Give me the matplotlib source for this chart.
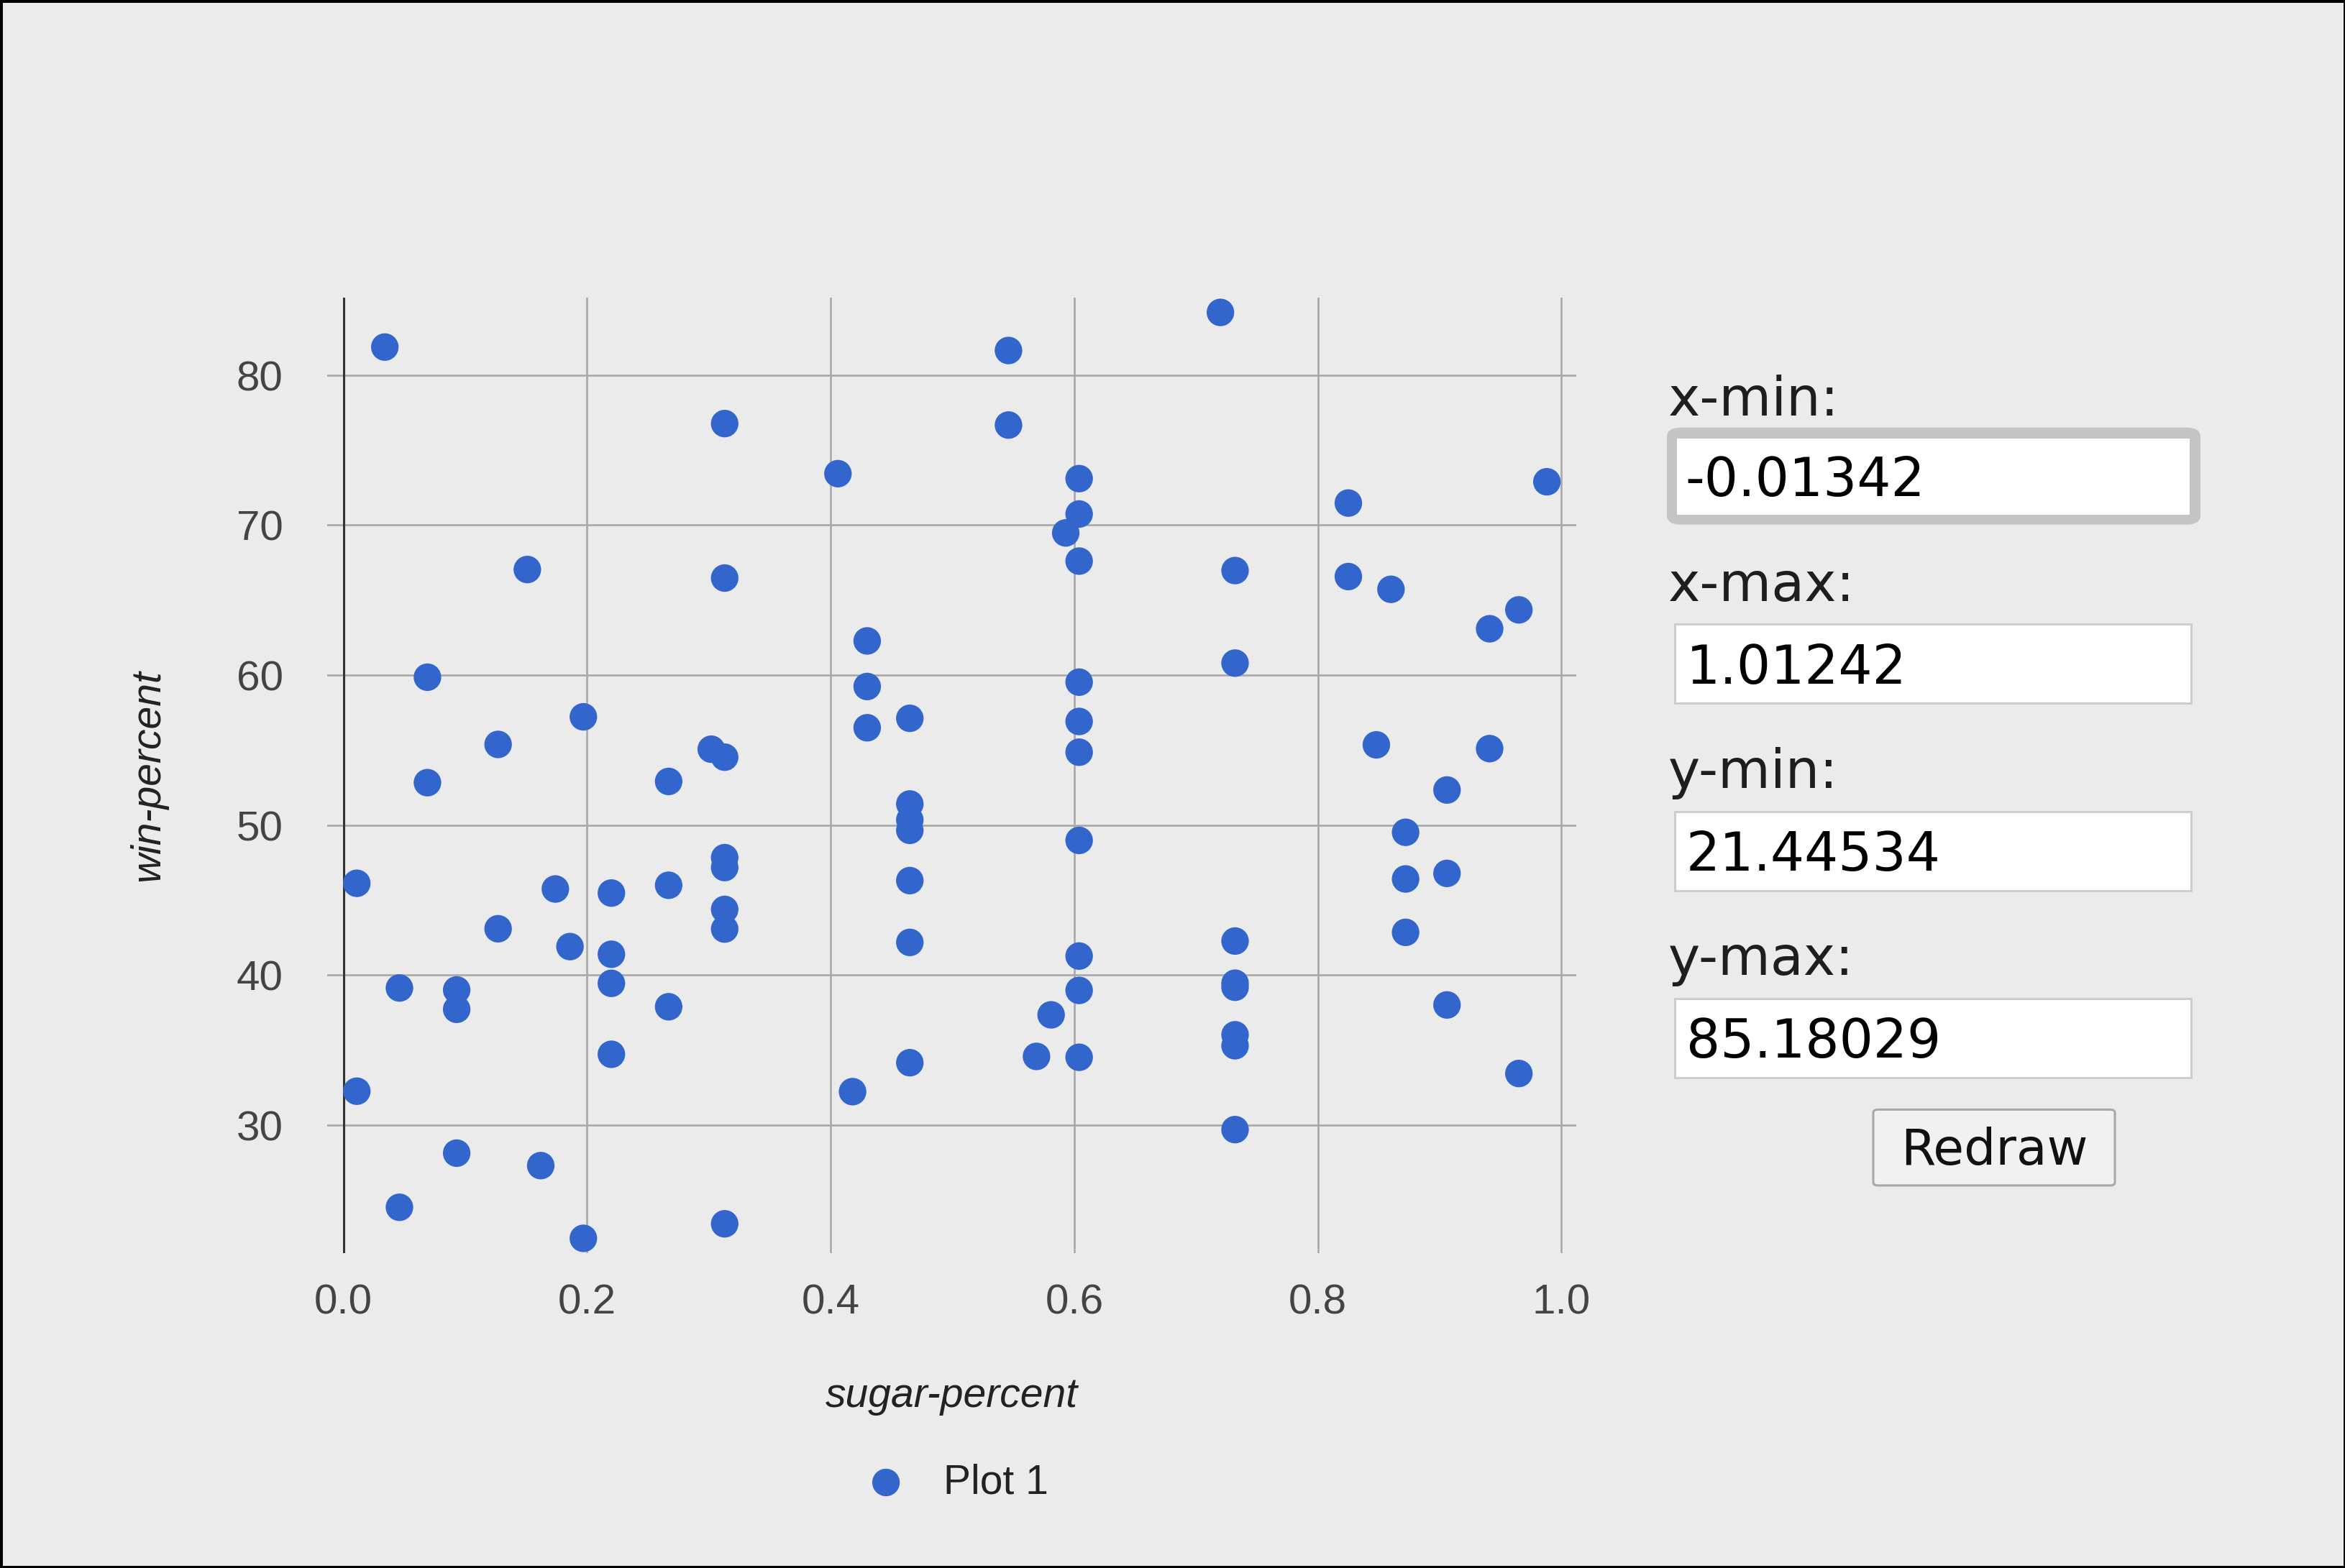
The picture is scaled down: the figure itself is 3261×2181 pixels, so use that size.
import matplotlib
matplotlib.use('Agg')
import numpy as np
import matplotlib.pyplot as plt
from matplotlib.patches import Rectangle, FancyBboxPatch

# sugar-percent / win-percent (85 candies)
sugar_percent = [0.732, 0.604, 0.011, 0.011, 0.906, 0.465, 0.604, 0.313, 0.906, 0.604,
                 0.604, 0.732, 0.046, 0.732, 0.732, 0.127, 0.732, 0.906, 0.465, 0.465,
                 0.465, 0.465, 0.127, 0.430, 0.430, 0.430, 0.093, 0.197, 0.313, 0.220,
                 0.046, 0.267, 0.825, 0.825, 0.872, 0.302, 0.604, 0.732, 0.965, 0.313,
                 0.313, 0.848, 0.604, 0.313, 0.197, 0.220, 0.465, 0.593, 0.093, 0.604,
                 0.581, 0.034, 0.720, 0.406, 0.988, 0.732, 0.860, 0.732, 0.872, 0.220,
                 0.941, 0.941, 0.267, 0.267, 0.546, 0.604, 0.069, 0.069, 0.151, 0.569,
                 0.965, 0.418, 0.162, 0.604, 0.604, 0.313, 0.174, 0.465, 0.313, 0.546,
                 0.220, 0.093, 0.313, 0.186, 0.872]
win_percent = [66.97, 67.60, 32.26, 46.12, 52.34, 50.35, 56.91, 23.42, 38.01, 34.52,
               38.98, 36.02, 24.52, 42.27, 39.46, 43.09, 39.19, 46.78, 57.12, 34.16,
               51.41, 42.18, 55.38, 62.28, 56.49, 59.24, 28.13, 57.22, 76.77, 41.39,
               39.14, 52.91, 71.47, 66.57, 46.41, 55.06, 73.10, 60.80, 64.35, 47.83,
               54.53, 55.35, 70.74, 66.47, 22.45, 39.45, 46.30, 69.48, 37.72, 41.27,
               37.35, 81.87, 84.18, 73.43, 72.89, 35.29, 65.72, 29.70, 42.85, 34.72,
               63.09, 55.10, 37.89, 45.99, 76.67, 59.53, 59.86, 52.83, 67.04, 34.58,
               33.44, 32.23, 27.30, 54.86, 48.98, 43.07, 45.74, 49.65, 47.17, 81.64,
               45.47, 39.01, 44.38, 41.90, 49.52]

x_ticks = [0.0, 0.2, 0.4, 0.6, 0.8, 1.0]
y_ticks = [30, 40, 50, 60, 70, 80]
x_min, x_max = -0.01342, 1.01242
y_min, y_max = 21.44534, 85.18029
field_labels = ['x-min:', 'x-max:', 'y-min:', 'y-max:']
field_values = [x_min, x_max, y_min, y_max]

W, H = 3262, 2181
BG = '#ebebeb'
BLUE = '#3366cc'
CHART_FONT = ['Liberation Sans', 'DejaVu Sans']
FORM_FONT = ['DejaVu Sans']


def fx(x):
    return x / W


def fy(y):
    return 1 - y / H


fig = plt.figure(figsize=(W / 100, H / 100), dpi=100, facecolor=BG)

# chart area in pixels: x 454.8..2192.5, y 414..1743.5
ax = fig.add_axes([fx(454.8), fy(1743.5), fx(2192.5 - 454.8), (1743.5 - 414) / H])
ax.set_facecolor(BG)
ax.set_xlim(x_min, x_max)
ax.set_ylim(y_min, y_max)
ax.set_xticks(x_ticks)
ax.set_yticks(y_ticks)
ax.set_xticklabels(['%.1f' % t for t in x_ticks])
ax.set_yticklabels(['%d' % t for t in y_ticks])
for s in ax.spines.values():
    s.set_visible(False)
ax.tick_params(axis='both', length=0, labelsize=42, labelcolor='#444444')
ax.tick_params(axis='x', pad=30)
ax.tick_params(axis='y', pad=44)
for lab in ax.get_xticklabels() + ax.get_yticklabels():
    lab.set_family(CHART_FONT)
ax.grid(True, color='#a8a8a8', linewidth=1.9, zorder=0)
ax.set_axisbelow(True)
ax.axvline(0, color='#333333', linewidth=2.2, zorder=1)

ax.scatter(sugar_percent, win_percent, s=760, color=BLUE, edgecolors='none',
           zorder=3, label='Plot 1')

# axis titles
fig.text(fx(1323.6), fy(1957), 'sugar-percent', ha='center', va='baseline',
         fontsize=41, style='italic', family=CHART_FONT, color='#222222')
fig.text(fx(206), fy(1078.7), 'win-percent', ha='center', va='center',
         rotation=90, fontsize=41, style='italic', family=CHART_FONT, color='#222222')

leg = fig.legend(loc='center', bbox_to_anchor=(fx(1333.5), fy(2062)), frameon=False,
                 handlelength=0.8, handletextpad=1.0, borderpad=0,
                 prop={'family': CHART_FONT, 'size': 41})
for t in leg.get_texts():
    t.set_color('#222222')

# right-hand form
label_base = [578, 836, 1096, 1356]
box_tops = [610, 868.7, 1128.8, 1389]
for k, (lab, val) in enumerate(zip(field_labels, field_values)):
    fig.text(fx(2320), fy(label_base[k]), lab, ha='left', va='baseline',
             fontsize=54, family=FORM_FONT, color='#1e1e1e')
    if k == 0:
        # focused input: thick grey rounded ring
        fig.patches.append(FancyBboxPatch((fx(2318), fy(730)), fx(3060 - 2318), (730 - 595) / H,
                                          boxstyle='round,pad=0,rounding_size=0.006',
                                          transform=fig.transFigure, facecolor='#c4c4c4',
                                          edgecolor='none'))
        fig.patches.append(Rectangle((fx(2331.6), fy(716)), fx(3045 - 2331.6), (716 - 610) / H,
                                     transform=fig.transFigure, facecolor='white',
                                     edgecolor='none'))
        tx, base = 2343, 690
    else:
        top = box_tops[k]
        fig.patches.append(Rectangle((fx(2328.6), fy(top + 110)), fx(3046.7 - 2328.6), 110 / H,
                                     transform=fig.transFigure, facecolor='white',
                                     edgecolor='#cdcdcd', linewidth=2.2))
        tx, base = 2345, top + 82
    fig.text(fx(tx), fy(base), '%.5f' % val, ha='left', va='baseline',
             fontsize=53.5, family=FORM_FONT, color='black')

# Redraw button
fig.patches.append(FancyBboxPatch((fx(2605), fy(1649)), fx(2941 - 2605), (1649 - 1543.5) / H,
                                  boxstyle='round,pad=0,rounding_size=0.002',
                                  transform=fig.transFigure, facecolor='#f1f1f1',
                                  edgecolor='#a8a8a8', linewidth=2.2))
fig.text(fx(2773), fy(1620), 'Redraw', ha='center', va='baseline',
         fontsize=50, family=FORM_FONT, color='#111111')

# black frame around the screenshot
fig.patches.append(Rectangle((0, 0), 1, 1, transform=fig.transFigure, fill=False,
                             edgecolor='black', linewidth=5))

# make sure the canvas comes out at exactly W x H pixels
for dh in [0, -0.4, 0.4]:
    fig.set_size_inches(W / 100, (H + dh) / 100)
    fig.canvas.draw()
    if np.asarray(fig.canvas.buffer_rgba()).shape[:2] == (H, W):
        break

fig.savefig('out.png', dpi=100, facecolor=BG)
